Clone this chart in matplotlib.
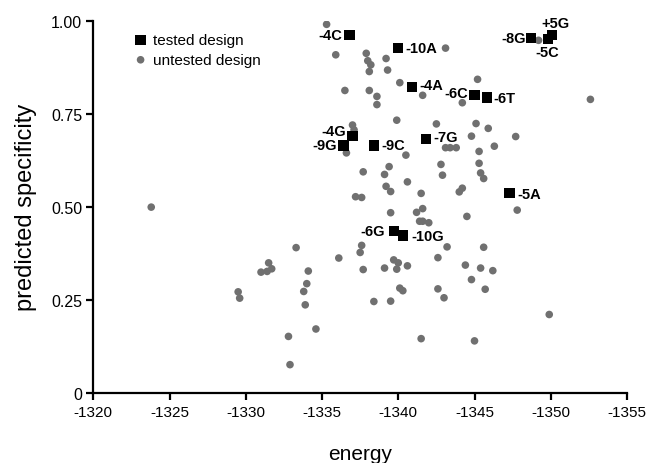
import matplotlib
matplotlib.use("Agg")
import matplotlib.pyplot as plt

plt.rcParams['font.family'] = ['Liberation Sans', 'DejaVu Sans']

# untested designs (energy, predicted specificity)
untested_energy = [
    -1335.3, -1335.9, -1337.9, -1338.0, -1338.2, -1338.1, -1339.2, -1339.3, -1343.1, -1340.1,
    -1341.6, -1336.5, -1338.1, -1338.6, -1338.6, -1345.2, -1344.2, -1339.9, -1337.0, -1337.1,
    -1336.6, -1342.5, -1345.1, -1344.8, -1340.5, -1343.1, -1343.4, -1343.8, -1342.8, -1342.9,
    -1339.4, -1339.1, -1337.7, -1340.6, -1339.2, -1339.5, -1337.2, -1337.6, -1341.5, -1344.0,
    -1344.2, -1345.9, -1347.7, -1346.3, -1345.3, -1345.3, -1345.4, -1345.6, -1349.2, -1352.6,
    -1347.8, -1344.5, -1345.6, -1344.4, -1345.4, -1346.2, -1344.8, -1345.7, -1349.9, -1345.0,
    -1339.5, -1341.2, -1341.6, -1341.4, -1341.6, -1342.0, -1343.2, -1333.3, -1337.6, -1337.5,
    -1336.1, -1342.6, -1339.7, -1340.0, -1334.1, -1334.0, -1333.8, -1333.9, -1337.7, -1339.1,
    -1339.9, -1340.6, -1340.1, -1340.3, -1342.6, -1343.0, -1338.4, -1339.5, -1334.6, -1332.8,
    -1332.9, -1341.5, -1323.8, -1329.5, -1329.6, -1331.0, -1331.5, -1331.7, -1331.4,
]
untested_spec = [
    0.991, 0.909, 0.913, 0.893, 0.882, 0.864, 0.899, 0.868, 0.927, 0.834,
    0.800, 0.813, 0.813, 0.797, 0.775, 0.843, 0.780, 0.733, 0.720, 0.707,
    0.645, 0.723, 0.724, 0.690, 0.639, 0.659, 0.659, 0.659, 0.614, 0.585,
    0.608, 0.587, 0.594, 0.567, 0.555, 0.541, 0.527, 0.525, 0.536, 0.540,
    0.550, 0.711, 0.689, 0.663, 0.649, 0.617, 0.591, 0.576, 0.948, 0.789,
    0.491, 0.474, 0.391, 0.343, 0.335, 0.328, 0.304, 0.278, 0.210, 0.139,
    0.484, 0.485, 0.495, 0.461, 0.461, 0.457, 0.392, 0.390, 0.396, 0.377,
    0.362, 0.363, 0.357, 0.349, 0.327, 0.293, 0.272, 0.236, 0.331, 0.335,
    0.332, 0.341, 0.281, 0.274, 0.279, 0.255, 0.245, 0.246, 0.171, 0.151,
    0.075, 0.145, 0.499, 0.271, 0.254, 0.324, 0.349, 0.333, 0.326,
]

# tested designs
tested_labels = ['-4C', '-10A', '-4A', '-6C', '-6T', '-4G', '-9G', '-9C', '-7G',
                 '-8G', '+5G', '-5C', '-5A', '-6G', '-10G']
tested_energy = [-1336.8, -1340.0, -1340.9, -1345.0, -1345.8, -1337.0, -1336.4, -1338.4, -1341.8,
                 -1348.7, -1350.1, -1349.8, -1347.3, -1339.7, -1340.3]
tested_spec = [0.963, 0.927, 0.823, 0.801, 0.794, 0.691, 0.665, 0.665, 0.682,
               0.955, 0.962, 0.951, 0.537, 0.435, 0.423]

# label placement (offset in points)
label_offsets = [(-5, 0), (5, 0), (5, 1.5), (-4.5, 1.5), (5, 0), (-4.5, 3.5), (-4.5, 0), (5.5, 0), (5.5, 1.5),
                 (-4, 0), (2, 9), (0, -9.5), (5.5, -1), (-6, 0), (6, -0.5)]

fig = plt.figure(figsize=(6.46, 4.64), dpi=100)
ax = fig.add_axes([0.1444, 0.1519, 0.8262, 0.8007])

ax.scatter(untested_energy, untested_spec, s=30, color='#707070', edgecolors='none',
           label='untested design', zorder=2)
ax.scatter(tested_energy, tested_spec, s=55, marker='s', color='black', edgecolors='none',
           label='tested design', zorder=3)

for lab, x, y, (dx, dy) in zip(tested_labels, tested_energy, tested_spec, label_offsets):
    ha = 'right' if dx < 0 else ('left' if dx > 0 else 'center')
    if lab == '+5G':
        ha = 'center'
    ax.annotate(lab, (x, y), xytext=(dx, dy), textcoords='offset points',
                ha=ha, va='center', fontsize=10.5, fontweight='bold', zorder=4)

ax.set_xlim(-1320, -1355)
ax.set_ylim(0, 1)
ax.set_xticks([-1320, -1325, -1330, -1335, -1340, -1345, -1350, -1355])
ax.set_xticklabels(['-1320', '-1325', '-1330', '-1335', '-1340', '-1345', '-1350', '-1355'], fontsize=11)
ax.set_yticks([0, 0.25, 0.5, 0.75, 1.0])
ax.set_yticklabels(['0', '0.25', '0.50', '0.75', '1.00'], fontsize=11.5)

for side in ['top', 'right']:
    ax.spines[side].set_visible(False)
for side in ['left', 'bottom']:
    ax.spines[side].set_linewidth(1.6)
    ax.spines[side].set_color('black')
ax.tick_params(axis='both', direction='out', length=5, width=1.6, color='black', pad=3)
ax.tick_params(axis='x', pad=4)

ax.set_xlabel('energy', fontsize=15, labelpad=18)
ax.set_ylabel('predicted specificity', fontsize=17, labelpad=10)

handles, labels = ax.get_legend_handles_labels()
leg = ax.legend(handles[::-1], labels[::-1], loc='upper left', bbox_to_anchor=(0.06, 0.985),
                frameon=False, fontsize=11, handletextpad=0.2, labelspacing=0.4,
                borderaxespad=0, handlelength=1.2, scatterpoints=1)

fig.savefig('out.png', dpi=100)
